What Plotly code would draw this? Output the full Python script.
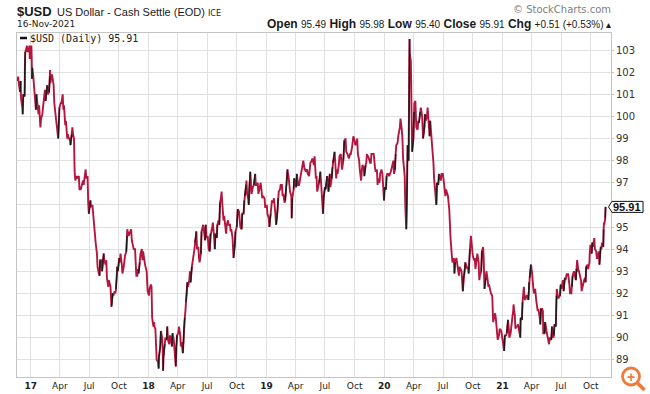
import plotly.graph_objects as go

# ---------------- data ----------------
d16 = ["11-21","11-23","11-25","11-29","12-01","12-02","12-06","12-07","12-09","12-13","12-14","12-15","12-19","12-20","12-22","12-23","12-27","12-28","12-29","12-30"]
v16 = [101.6,101.8,101.5,101.1,101.6,100.8,100.4,100.1,101.0,100.9,102.2,102.9,103.1,103.2,102.9,103.0,103.1,103.2,102.6,102.8]

d17 = ["01-03","01-04","01-05","01-06","01-09","01-11","01-13","01-17","01-19","01-23","01-25","01-27","01-31",
       "02-02","02-06","02-08","02-10","02-14","02-16","02-21","02-23","02-27",
       "03-01","03-02","03-03","03-07","03-09","03-13","03-15","03-17","03-21","03-24","03-27","03-29","03-31",
       "04-04","04-06","04-10","04-12","04-14","04-18","04-20","04-24","04-26","04-28",
       "05-02","05-04","05-08","05-10","05-12","05-15","05-17","05-19","05-23","05-25","05-30",
       "06-01","06-05","06-08","06-12","06-14","06-16","06-20","06-22","06-26","06-28","06-30",
       "07-05","07-07","07-11","07-13","07-17","07-19","07-21","07-25","07-27","07-31",
       "08-02","08-04","08-08","08-10","08-15","08-17","08-21","08-23","08-25","08-29","08-31",
       "09-05","09-07","09-08","09-12","09-14","09-18","09-20","09-22","09-26","09-28",
       "10-02","10-04","10-06","10-10","10-12","10-16","10-18","10-20","10-24","10-26","10-27","10-31",
       "11-02","11-06","11-08","11-10","11-14","11-16","11-20","11-22","11-24","11-27","11-29",
       "12-01","12-05","12-07","12-11","12-13","12-15","12-19","12-21","12-26","12-28","12-29"]
v17 = [103.2,102.7,101.7,102.2,101.8,101.3,101.2,100.3,101.0,100.3,100.1,100.5,99.5,
       99.9,100.1,100.4,100.8,101.2,100.7,101.4,101.0,101.1,
       101.8,102.1,101.5,101.9,101.8,101.4,100.6,100.3,99.7,99.6,99.0,99.7,100.4,
       100.6,100.6,101.0,100.3,100.5,99.6,99.8,99.0,99.2,99.0,
       99.0,98.7,99.2,99.5,99.2,99.0,97.5,97.1,97.3,97.2,97.3,
       96.7,96.7,96.9,97.1,96.9,97.2,97.6,97.2,97.3,96.1,95.6,
       96.2,95.9,96.0,95.6,95.1,94.8,94.3,93.8,93.2,92.9,
       92.8,93.5,93.5,93.0,93.8,93.5,93.3,93.5,92.7,92.3,92.6,
       92.3,91.8,91.4,92.0,91.9,92.1,92.0,92.2,93.2,93.0,
       93.6,93.4,93.8,93.3,92.9,93.2,93.5,93.7,93.9,94.6,94.9,94.6,
       94.7,94.8,94.9,94.4,94.0,94.0,94.0,93.2,92.8,92.8,93.1,
       92.9,93.4,93.8,94.0,93.5,93.9,93.4,93.3,93.0,92.4,92.1]

d18 = ["01-02","01-04","01-08","01-10","01-12","01-16","01-18","01-19","01-22","01-24","01-26","01-30",
       "02-01","02-02","02-06","02-08","02-12","02-14","02-15","02-16","02-20","02-22","02-26","02-28",
       "03-02","03-06","03-08","03-12","03-14","03-16","03-20","03-23","03-26","03-28","03-30",
       "04-03","04-05","04-09","04-11","04-13","04-17","04-19","04-20","04-23","04-25","04-27",
       "05-01","05-03","05-07","05-09","05-11","05-15","05-17","05-21","05-23","05-25","05-29","05-31",
       "06-04","06-06","06-08","06-12","06-14","06-19","06-21","06-25","06-27","06-29",
       "07-03","07-06","07-09","07-11","07-13","07-17","07-19","07-23","07-25","07-27","07-31",
       "08-02","08-06","08-08","08-10","08-13","08-15","08-17","08-21","08-23","08-27","08-29","08-31",
       "09-04","09-06","09-10","09-12","09-14","09-18","09-20","09-21","09-25","09-27",
       "10-01","10-04","10-08","10-10","10-12","10-16","10-18","10-22","10-24","10-26","10-30","10-31",
       "11-02","11-05","11-07","11-09","11-12","11-14","11-16","11-20","11-23","11-27","11-29",
       "12-03","12-05","12-07","12-11","12-14","12-17","12-19","12-21","12-26","12-28","12-31"]
v18 = [91.9,92.2,92.4,92.3,90.9,90.5,90.7,90.5,90.4,89.2,89.0,88.9,
       88.6,89.1,89.6,90.3,90.0,89.3,88.5,89.1,89.7,90.0,89.9,90.5,
       89.9,89.7,90.1,89.9,89.6,90.2,89.9,89.2,88.7,89.6,90.1,
       90.2,90.5,90.1,89.6,89.8,89.3,89.8,90.3,90.9,91.2,91.6,
       92.5,92.3,92.6,93.0,92.5,93.2,93.4,93.6,94.0,94.3,94.8,94.0,
       94.1,93.6,93.4,93.8,94.8,95.1,94.9,94.4,95.1,94.5,
       94.6,94.0,93.9,94.7,94.7,95.0,95.2,94.5,94.0,94.7,94.5,
       95.1,95.3,95.1,96.1,96.3,96.6,96.1,95.3,95.5,94.8,94.7,95.1,
       95.3,95.1,95.1,94.8,94.9,94.5,94.1,93.6,94.2,94.8,
       95.0,95.8,95.7,95.2,95.0,94.9,95.6,95.6,96.2,96.4,96.9,97.1,
       96.5,96.3,96.0,96.9,97.5,97.0,96.5,96.8,96.9,97.4,96.9,
       96.9,97.0,96.5,96.9,97.0,96.6,96.3,96.4,96.3,95.9,95.9]

d19 = ["01-02","01-04","01-08","01-10","01-14","01-16","01-18","01-22","01-24","01-28","01-31",
       "02-04","02-06","02-08","02-12","02-14","02-18","02-20","02-22","02-26","02-28",
       "03-04","03-07","03-11","03-13","03-15","03-19","03-20","03-22","03-26","03-28",
       "04-01","04-03","04-05","04-09","04-12","04-16","04-18","04-23","04-25","04-29",
       "05-01","05-03","05-07","05-09","05-13","05-15","05-17","05-21","05-23","05-28","05-30",
       "06-03","06-05","06-07","06-11","06-13","06-17","06-19","06-21","06-25","06-27",
       "07-01","07-03","07-08","07-10","07-12","07-16","07-18","07-22","07-24","07-26","07-31",
       "08-02","08-05","08-07","08-09","08-13","08-15","08-19","08-21","08-23","08-27","08-30",
       "09-03","09-05","09-09","09-11","09-13","09-17","09-19","09-23","09-25","09-27",
       "10-01","10-03","10-07","10-09","10-11","10-15","10-17","10-21","10-23","10-25","10-29","10-31",
       "11-04","11-06","11-08","11-12","11-14","11-18","11-20","11-22","11-26","11-29",
       "12-03","12-05","12-09","12-11","12-13","12-17","12-19","12-23","12-26","12-31"]
v19 = [96.0,95.6,95.4,95.0,95.6,95.9,96.2,96.1,96.3,95.7,95.1,
       95.7,96.3,96.6,96.7,96.9,96.9,96.4,96.5,96.1,96.2,
       96.9,97.6,97.2,96.8,96.6,96.4,95.4,96.3,96.7,97.2,
       97.0,96.8,97.4,96.9,96.9,97.2,97.4,97.7,98.0,97.6,
       97.6,97.5,97.6,97.4,97.3,97.6,97.9,98.0,98.1,97.8,98.2,
       97.2,97.3,96.6,96.8,97.0,97.5,97.1,96.3,95.6,96.3,
       96.8,96.7,97.3,96.9,96.6,97.4,96.8,97.2,97.7,97.9,98.4,
       97.9,97.2,97.6,97.4,97.8,98.2,98.3,98.0,97.6,98.0,98.9,
       99.0,98.4,98.3,98.1,98.1,98.3,98.3,98.6,98.9,99.1,
       98.9,98.7,98.8,99.0,98.3,98.0,97.6,97.1,97.5,97.8,97.7,97.3,
       97.8,97.9,98.3,98.2,98.1,97.9,97.9,98.3,98.3,98.3,
       97.7,97.5,97.6,96.9,97.2,97.0,97.4,97.6,97.4,96.2]

d20 = ["01-02","01-06","01-08","01-10","01-14","01-16","01-21","01-23","01-27","01-29","01-31",
       "02-03","02-05","02-07","02-11","02-13","02-18","02-20","02-24","02-26","02-28",
       "03-02","03-04","03-06","03-09","03-11","03-12","03-13","03-16","03-17","03-18","03-19","03-20","03-23","03-24","03-25","03-26","03-27","03-31",
       "04-02","04-03","04-06","04-08","04-09","04-13","04-15","04-17","04-21","04-23","04-27","04-29","04-30",
       "05-04","05-06","05-08","05-12","05-14","05-18","05-20","05-22","05-26","05-28",
       "06-01","06-03","06-05","06-09","06-10","06-12","06-16","06-18","06-22","06-24","06-26","06-30",
       "07-02","07-06","07-08","07-10","07-14","07-16","07-20","07-22","07-24","07-28","07-30",
       "08-03","08-05","08-07","08-11","08-13","08-17","08-19","08-21","08-25","08-27","08-31",
       "09-02","09-04","09-08","09-10","09-14","09-16","09-18","09-22","09-24","09-25","09-29",
       "10-01","10-05","10-07","10-09","10-13","10-15","10-19","10-21","10-23","10-27","10-29",
       "11-02","11-04","11-06","11-10","11-12","11-16","11-18","11-20","11-24","11-26","11-30",
       "12-01","12-03","12-07","12-09","12-11","12-15","12-17","12-21","12-23","12-28","12-31"]
v20 = [96.8,96.7,97.3,97.4,97.4,97.3,97.5,97.6,97.9,98.0,97.4,
       97.6,98.3,98.7,98.8,99.1,99.5,99.9,99.4,99.0,98.1,
       97.4,97.3,95.9,94.9,96.5,97.6,98.7,98.0,99.6,101.2,103.5,102.8,102.5,101.8,100.9,99.5,98.4,99.0,
       100.2,100.6,100.7,100.1,99.5,99.4,99.8,99.7,100.2,100.4,100.0,99.5,99.0,
       99.5,100.1,99.8,100.0,100.4,99.6,99.1,99.8,99.0,98.9,
       97.9,97.2,96.9,96.3,96.0,97.0,96.9,97.4,97.2,97.1,97.4,97.4,
       97.2,96.7,96.4,96.7,96.4,96.4,95.8,95.0,94.5,93.7,93.4,
       93.6,92.9,93.4,93.6,93.4,93.1,92.8,93.2,93.0,93.0,92.1,
       92.8,92.8,93.4,93.3,93.1,93.2,92.9,94.0,94.4,94.6,94.0,
       93.7,93.5,93.6,93.1,93.5,93.8,93.4,92.6,92.8,93.0,93.9,
       94.1,93.4,92.2,92.7,93.0,92.6,92.3,92.4,92.1,92.0,91.9,
       91.2,90.7,91.0,91.1,90.9,90.4,89.9,90.1,90.4,90.3,89.9]

d21 = ["01-05","01-06","01-08","01-12","01-14","01-18","01-20","01-22","01-26","01-28",
       "02-01","02-03","02-04","02-08","02-10","02-12","02-16","02-18","02-22","02-24","02-25","02-26",
       "03-02","03-04","03-05","03-08","03-10","03-12","03-16","03-18","03-22","03-24","03-26","03-30","03-31",
       "04-02","04-06","04-08","04-12","04-14","04-16","04-20","04-22","04-26","04-28","04-30",
       "05-04","05-06","05-07","05-11","05-13","05-17","05-19","05-21","05-25","05-27",
       "06-01","06-03","06-07","06-09","06-11","06-15","06-16","06-17","06-18","06-22","06-24","06-28","06-30",
       "07-02","07-07","07-09","07-13","07-15","07-19","07-21","07-23","07-27","07-29",
       "08-02","08-04","08-06","08-10","08-12","08-16","08-18","08-20","08-24","08-26","08-30",
       "09-01","09-03","09-07","09-09","09-13","09-15","09-17","09-21","09-23","09-27","09-28","09-30",
       "10-04","10-06","10-08","10-12","10-14","10-18","10-20","10-22","10-26","10-28",
       "11-01","11-03","11-05","11-09","11-10","11-11","11-12","11-15","11-16"]
v21 = [89.4,89.4,90.1,90.1,90.2,90.8,90.5,90.0,90.2,90.6,
       91.0,91.2,91.5,91.0,90.4,90.5,90.5,90.6,90.1,90.1,90.0,90.9,
       90.8,91.6,91.9,92.3,91.8,91.7,91.9,91.9,91.7,92.5,92.7,93.3,93.2,
       93.0,92.3,92.0,92.2,91.7,91.6,91.2,91.3,90.9,90.6,91.3,
       91.3,91.2,90.2,90.2,90.7,90.3,90.2,90.0,89.7,90.0,
       89.9,90.5,90.0,90.1,90.6,90.5,91.1,91.9,92.2,91.8,91.8,91.9,92.4,
       92.2,92.6,92.1,92.7,92.6,92.9,92.8,92.9,92.4,92.0,
       92.0,92.3,92.8,93.0,92.9,92.6,93.1,93.5,93.0,93.0,92.7,
       92.6,92.1,92.5,92.5,92.7,92.5,93.2,93.3,93.1,93.4,93.8,94.2,
       93.8,94.3,94.1,94.5,94.0,93.9,93.6,93.6,93.9,93.3,
       94.1,94.0,94.3,94.1,94.9,95.2,95.1,95.4,95.91]

y_ticks = [89, 90, 91, 92, 93, 94, 95, 96, 97, 98, 99, 100, 101, 102, 103]
x_ticks = ["2017-01-01","2017-04-01","2017-07-01","2017-10-01",
           "2018-01-01","2018-04-01","2018-07-01","2018-10-01",
           "2019-01-01","2019-04-01","2019-07-01","2019-10-01",
           "2020-01-01","2020-04-01","2020-07-01","2020-10-01",
           "2021-01-01","2021-04-01","2021-07-01","2021-10-01"]
x_labels = ["<b>17</b>","Apr","Jul","Oct","<b>18</b>","Apr","Jul","Oct",
            "<b>19</b>","Apr","Jul","Oct","<b>20</b>","Apr","Jul","Oct",
            "<b>21</b>","Apr","Jul","Oct"]
last_close = 95.91

# ---------------- assemble ----------------
dates, vals = [], []
for yr, dd, vv in [(2016, d16, v16), (2017, d17, v17), (2018, d18, v18),
                   (2019, d19, v19), (2020, d20, v20), (2021, d21, v21)]:
    assert len(dd) == len(vv), yr
    dates += [f"{yr}-{d}" for d in dd]
    vals += vv

# strong up-moves drawn black over the crimson price line
up_x, up_y = [], []
for i in range(len(vals) - 1):
    if vals[i + 1] - vals[i] >= 0.45:
        up_x += [dates[i], dates[i + 1], None]; up_y += [vals[i], vals[i + 1], None]

RED = "#b3173f"
BLK = "#1a1a1a"
fig = go.Figure()
fig.add_trace(go.Scatter(x=dates, y=vals, mode="lines", line=dict(color=RED, width=1.9),
                         showlegend=False, hoverinfo="skip"))
fig.add_trace(go.Scatter(x=up_x, y=up_y, mode="lines", line=dict(color=BLK, width=1.4),
                         showlegend=False, hoverinfo="skip", connectgaps=False))

W, H = 650, 394
L, R, T, B = 17, 39, 33, 17
pw, ph = W - L - R, H - T - B
def px(x): return (x - L) / pw
def py(y): return (H - B - y) / ph

fig.update_layout(
    width=W, height=H, margin=dict(l=L, r=R, t=T, b=B, autoexpand=False),
    paper_bgcolor="white", plot_bgcolor="white",
    font=dict(family="DejaVu Sans", size=10, color="#222"),
    xaxis=dict(range=["2016-11-19 12:00", "2021-12-02 20:00"], type="date",
               tickvals=x_ticks, ticktext=x_labels, tickangle=0,
               showgrid=True, gridcolor="#e0e0e0", gridwidth=1,
               showline=True, linecolor="#c4c4c4", linewidth=1, mirror=True,
               ticks="", automargin=False,
               tickfont=dict(family="DejaVu Sans", size=9, color="#222"),
               zeroline=False, fixedrange=True),
    yaxis=dict(range=[88.22, 103.77], side="right", tickvals=y_ticks,
               ticktext=["" if t == 96 else str(t) for t in y_ticks],
               showgrid=True, gridcolor="#e0e0e0", gridwidth=1,
               showline=True, linecolor="#c4c4c4", linewidth=1, mirror=True,
               ticks="outside", ticklen=2, tickcolor="#c4c4c4", automargin=False,
               tickfont=dict(family="DejaVu Sans", size=10, color="#333"),
               zeroline=False, fixedrange=True),
)

ann = []
ann.append(dict(text="<b>$USD</b>", x=px(15), y=py(11), xref="paper", yref="paper",
                xanchor="left", yanchor="middle", showarrow=False,
                font=dict(family="Liberation Sans", size=13, color="#1a1a1a")))
ann.append(dict(text="US Dollar - Cash Settle (EOD)", x=px(55), y=py(12), xref="paper", yref="paper",
                xanchor="left", yanchor="middle", showarrow=False,
                font=dict(family="Liberation Sans", size=11, color="#1a1a1a")))
ann.append(dict(text="ICE", x=px(206), y=py(13.5), xref="paper", yref="paper",
                xanchor="left", yanchor="middle", showarrow=False,
                font=dict(family="DejaVu Sans", size=8, color="#1a1a1a")))
ann.append(dict(text="16-Nov-2021", x=px(15), y=py(24), xref="paper", yref="paper",
                xanchor="left", yanchor="middle", showarrow=False,
                font=dict(family="DejaVu Sans", size=9, color="#1a1a1a")))
hdr = ("<b>Open</b> <span style='font-size:10px'>95.49</span> "
       "<b>High</b> <span style='font-size:10px'>95.98</span> "
       "<b>Low</b> <span style='font-size:10px'>95.40</span> "
       "<b>Close</b> <span style='font-size:10px'>95.91</span> "
       "<b>Chg</b> <span style='font-size:10px'>+0.51 (+0.53%) ▴</span>")
ann.append(dict(text=hdr, x=px(613), y=py(24), xref="paper", yref="paper",
                xanchor="right", yanchor="middle", showarrow=False,
                font=dict(family="Liberation Sans", size=12, color="#1a1a1a")))
ann.append(dict(text="© StockCharts.com", x=px(613), y=py(9), xref="paper", yref="paper",
                xanchor="right", yanchor="middle", showarrow=False,
                font=dict(family="DejaVu Sans", size=10, color="#808080")))
ann.append(dict(text="$USD (Daily) 95.91", x=px(28), y=py(38), xref="paper", yref="paper",
                xanchor="left", yanchor="middle", showarrow=False,
                font=dict(family="DejaVu Sans Mono", size=10, color="#1a1a1a")))
ann.append(dict(text="<b>%.2f</b>" % last_close, x=px(627.5), y=last_close, xref="paper", yref="y",
                xanchor="center", yanchor="middle", showarrow=False,
                font=dict(family="Liberation Sans", size=11, color="#111")))
ann.append(dict(text="<b>+</b>", x=px(631), y=py(376.5), xref="paper", yref="paper",
                xanchor="center", yanchor="middle", showarrow=False,
                font=dict(family="Liberation Sans", size=14, color="#ef7b3b")))
fig.update_layout(annotations=ann)

shapes = []
shapes.append(dict(type="line", xref="paper", yref="paper", x0=px(20), x1=px(27), y0=py(38), y1=py(38),
                   line=dict(color="#111", width=2.5)))
hh = 5.5 / ph * (103.77 - 88.22)
xt, xl, xr = px(608.5), px(612), px(643)
shapes.append(dict(type="path", xref="paper", yref="y",
                   path=f"M {xt},{last_close} L {xl},{last_close + hh} L {xr},{last_close + hh} "
                        f"L {xr},{last_close - hh} L {xl},{last_close - hh} Z",
                   line=dict(color="#111", width=1), fillcolor="white"))
shapes.append(dict(type="circle", xref="paper", yref="paper",
                   x0=px(622.5), x1=px(639.5), y0=py(385), y1=py(368),
                   line=dict(color="#ef7b3b", width=2.8)))
shapes.append(dict(type="line", xref="paper", yref="paper",
                   x0=px(637.5), x1=px(644.5), y0=py(383), y1=py(390),
                   line=dict(color="#ef7b3b", width=3.8)))
fig.update_layout(shapes=shapes)

fig.write_html("out.html", config={"displayModeBar": False},
               post_script="document.body.style.margin='0';document.body.style.padding='0';")
